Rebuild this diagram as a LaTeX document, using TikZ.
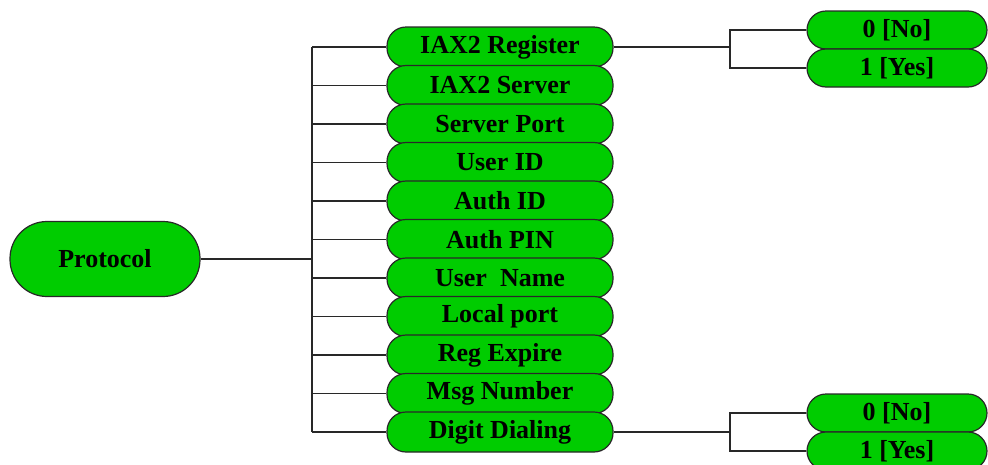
\documentclass[tikz,border=0pt]{standalone}
\usepackage{fontspec}
\setmainfont{Liberation Serif}
\usepackage{xcolor}
\usetikzlibrary{positioning, calc}
\definecolor{boxgreen}{RGB}{0,204,0}
\definecolor{linegray}{RGB}{40,40,40}
\tikzset{
  item/.style={draw=linegray, fill=boxgreen, line width=1.2pt, rounded corners=19pt,
    minimum width=226pt, minimum height=40pt, inner sep=0pt,
    font=\fontsize{26}{30}\selectfont\bfseries},
  choice/.style={item, minimum width=180pt, minimum height=38pt},
  root/.style={item, minimum width=190pt, minimum height=75pt, rounded corners=37pt},
  wire/.style={draw=linegray, line width=1.3pt}
}

\begin{document}
\begin{tikzpicture}[x=1pt, y=-1pt]
\useasboundingbox (0,0) rectangle (988,464);
% root
\node[root] (proto) at (105,259) {Protocol};
\coordinate (trunk) at (312,0);
\coordinate (brk) at (730,0);

% settings
\foreach \txt [count=\i] in {IAX2 Register, IAX2 Server, Server Port, User ID, Auth ID,
  Auth PIN, User\ \ Name, Local port, Reg Expire, Msg Number, Digit Dialing}
  \node[item] (m\i) at (500,{47+38.5*(\i-1)}) {\txt};

\draw[wire] (proto.east) -- (proto.east -| trunk);
\draw[wire] (m1.west -| trunk) -- (m11.west -| trunk);
\foreach \i in {1,...,11}
  \draw[wire] (m\i.west) -- (m\i.west -| trunk);

% IAX2 Register values
\node[choice] (no1) at (897,30) {0 [No]};
\node[choice] (yes1) at (897,68) {1 [Yes]};
\draw[wire] (m1.east) -- (m1.east -| brk);
\draw[wire] (no1.west) -- (no1.west -| brk) -- (yes1.west -| brk) -- (yes1.west);

% Digit Dialing values
\node[choice] (no2) at (897,413) {0 [No]};
\node[choice] (yes2) at (897,451) {1 [Yes]};
\draw[wire] (m11.east) -- (m11.east -| brk);
\draw[wire] (no2.west) -- (no2.west -| brk) -- (yes2.west -| brk) -- (yes2.west);
\end{tikzpicture}
\end{document}
